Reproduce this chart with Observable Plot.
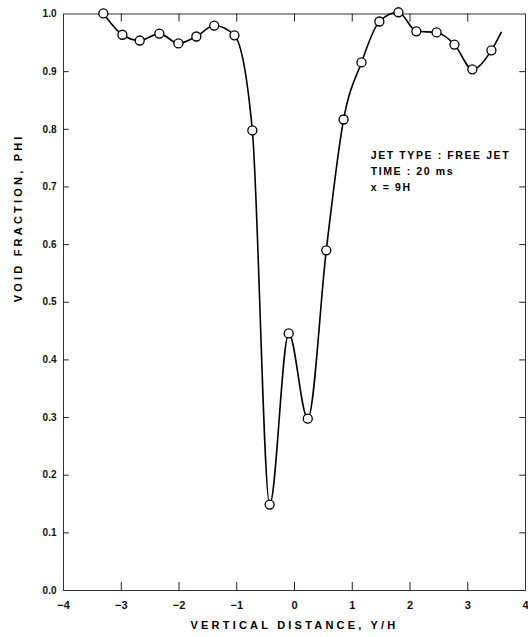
<!DOCTYPE html>
<html>
<head>
<meta charset="utf-8">
<script src="https://cdn.jsdelivr.net/npm/d3@7"></script>
<script src="https://cdn.jsdelivr.net/npm/@observablehq/plot@0.6"></script>
<style>
  html, body { margin: 0; padding: 0; background: #fff; }
  #chart svg { display: block; }
</style>
</head>
<body>
<div id="chart"></div>
<script>
// Measured points (Y/H, void fraction)
const distance = [-3.31, -2.98, -2.68, -2.34, -2.01, -1.70, -1.39, -1.04, -0.73, -0.43, -0.10, 0.23, 0.55, 0.85, 1.16, 1.47, 1.80, 2.11, 2.46, 2.77, 3.08, 3.41];
const voidFraction = [1.001, 0.964, 0.954, 0.966, 0.949, 0.961, 0.980, 0.963, 0.798, 0.149, 0.446, 0.298, 0.590, 0.817, 0.916, 0.987, 1.003, 0.970, 0.968, 0.947, 0.904, 0.937];
// Curve continues slightly past last marker
const lineEndX = [3.58];
const lineEndY = [0.968];

const xTicks = [-4, -3, -2, -1, 0, 1, 2, 3, 4];
const yTicks = [0, 0.1, 0.2, 0.3, 0.4, 0.5, 0.6, 0.7, 0.8, 0.9, 1.0];
const innerXTicks = [-3, -2, -1, 0, 1, 2, 3];
const innerYTicks = [0.1, 0.2, 0.3, 0.4, 0.5, 0.6, 0.7, 0.8, 0.9];

const annotation = ["JET TYPE : FREE JET", "TIME : 20 ms", "x = 9H"];
const xLabel = "VERTICAL DISTANCE, Y/H";
const yLabel = "VOID FRACTION, PHI";

const points = distance.map((x, i) => ({x, y: voidFraction[i]}));
const linePts = points.concat(lineEndX.map((x, i) => ({x, y: lineEndY[i]})));

const font = "Liberation Sans, Arial, sans-serif";

const chart = Plot.plot({
  width: 528,
  height: 637,
  marginLeft: 63,
  marginRight: 3,
  marginTop: 13.5,
  marginBottom: 47,
  style: {fontFamily: font, fontWeight: "bold", fontSize: "10px", color: "#111", background: "#fff"},
  x: {domain: [-4, 4]},
  y: {domain: [0, 1]},
  marks: [
    Plot.frame({stroke: "#333", strokeWidth: 1}),
    Plot.axisX({ticks: xTicks, tickSize: 0, tickPadding: 11, label: null,
      tickFormat: d => d < 0 ? "\u2212" + Math.abs(d) : String(d), fontSize: 11}),
    Plot.axisY({ticks: yTicks, tickSize: 0, tickPadding: 7, label: null,
      tickFormat: d => d.toFixed(1), fontSize: 10}),
    // inward tick marks
    Plot.ruleX(innerXTicks, {x: d => d, y1: 0, y2: 0.014, stroke: "#222"}),
    Plot.ruleX(innerXTicks, {x: d => d, y1: 1, y2: 0.986, stroke: "#222"}),
    Plot.ruleY(innerYTicks, {y: d => d, x1: -4, x2: -3.9, stroke: "#222"}),
    Plot.ruleY(innerYTicks, {y: d => d, x1: 4, x2: 3.9, stroke: "#222"}),
    Plot.line(linePts, {x: "x", y: "y", curve: "monotone-x", stroke: "#000", strokeWidth: 1.6, clip: false}),
    Plot.dot(points, {x: "x", y: "y", r: 4.5, fill: "#fff", stroke: "#000", strokeWidth: 1.3}),
    Plot.text(annotation, {x: 1.32, y: (d, i) => 0.755 - i * 0.0278, text: d => d, textAnchor: "start",
      fontSize: 10.5, fontWeight: "bold", fill: "#000"}),
    Plot.text([xLabel], {frameAnchor: "bottom", dy: 38, text: d => d, fontSize: 11, fontWeight: "bold", fill: "#000"}),
    Plot.text([yLabel], {frameAnchor: "left", dx: -45, rotate: -90, text: d => d, fontSize: 11, fontWeight: "bold", fill: "#000"})
  ]
});

d3.select(chart).selectAll("text").each(function() {
  const t = this.textContent;
  if (t === xLabel || t === yLabel) this.setAttribute("letter-spacing", "3.2");
  if (annotation.includes(t)) this.setAttribute("letter-spacing", "1.6");
});

document.getElementById("chart").appendChild(chart);
</script>
</body>
</html>
